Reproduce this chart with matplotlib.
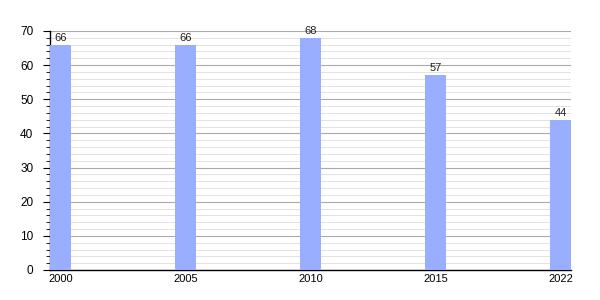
import matplotlib
matplotlib.use("Agg")
import matplotlib.pyplot as plt
from matplotlib.ticker import MultipleLocator
import numpy as np

years = ["2000", "2005", "2010", "2015", "2022"]
values = [66, 66, 68, 57, 44]

plt.rcParams["font.family"] = ["Liberation Sans", "DejaVu Sans"]

fig = plt.figure(figsize=(6, 3), dpi=100)
ax = fig.add_axes([0.0833, 0.1, 0.8687, 0.7967])

x = np.arange(len(years))
bar_w = 0.168
bars = ax.bar(x, values, bar_w, color="#9aaeff", zorder=3, linewidth=0)
for b, v in zip(bars, values):
    ax.text(b.get_x() + b.get_width() / 2, v + 0.6, str(v),
            ha="center", va="bottom", fontsize=8, color="#222222", zorder=4)

ax.set_xlim(-bar_w / 2, len(years) - 1 + bar_w / 2)
ax.set_ylim(0, 70)
ax.set_xticks(x)
ax.set_xticklabels(years)
ax.yaxis.set_major_locator(MultipleLocator(10))
ax.yaxis.set_minor_locator(MultipleLocator(2))
ax.grid(axis="y", which="major", color="#aaaaaa", linewidth=0.8, zorder=0)
ax.grid(axis="y", which="minor", color="#dddddd", linewidth=0.6, zorder=0)

for s in ("top", "right"):
    ax.spines[s].set_visible(False)
ax.spines["left"].set_linewidth(1)
ax.spines["bottom"].set_linewidth(1)
ax.tick_params(axis="y", which="major", length=5, labelsize=8.5, pad=7)
ax.tick_params(axis="y", which="minor", length=3)
ax.tick_params(axis="x", length=0, labelsize=8, pad=3)

fig.savefig("out.png", dpi=100)
